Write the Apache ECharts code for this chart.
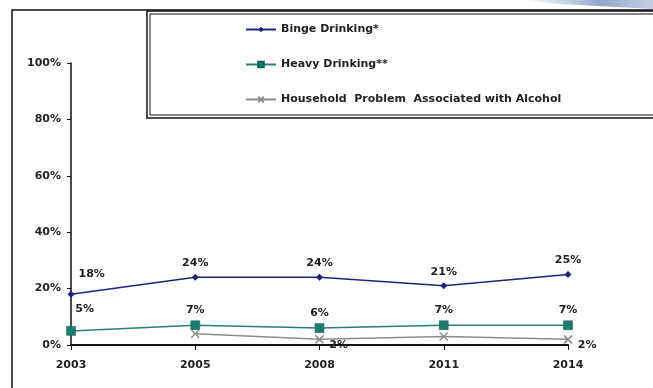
<!DOCTYPE html>
<html><head><meta charset="utf-8">
<script src="https://cdn.jsdelivr.net/npm/echarts@6/dist/echarts.min.js"></script>
<style>html,body{margin:0;padding:0;background:#fff}#c{width:653px;height:388px}</style>
</head><body><div id="c"></div>
<script>
const years = ['2003','2005','2008','2011','2014'];
const binge = [18, 24, 24, 21, 25];
const heavy = [5, 7, 6, 7, 7];
const household = [null, 4, 2, 3, 2];
const householdLabelled = [false, false, true, false, true];
const yTicks = [0, 20, 40, 60, 80, 100];
const seriesNames = ['Binge Drinking*', 'Heavy Drinking**', 'Household  Problem  Associated with Alcohol'];

const FONT = '"DejaVu Sans",sans-serif';
const chart = echarts.init(document.getElementById('c'));
const lbl = (pos) => ({show:true, position:pos, formatter:'{c}%', fontFamily:FONT, fontWeight:'bold', fontSize:11, color:'#222'});
const xPath = 'path://M0,0L10,10M10,0L0,10';

chart.setOption({
  animation:false,
  backgroundColor:'#fff',
  grid:{left:71, right:85, top:63, bottom:43},
  legend:{
    orient:'vertical', left:240, top:19, itemGap:24, itemWidth:30, itemHeight:7,
    textStyle:{fontFamily:FONT, fontWeight:'bold', fontSize:11, color:'#222'},
    data:seriesNames
  },
  xAxis:{
    type:'category', data:years, boundaryGap:false,
    axisLine:{lineStyle:{color:'#111', width:2}},
    axisTick:{show:true, alignWithLabel:true, length:5, lineStyle:{color:'#111'}},
    axisLabel:{fontFamily:FONT, fontWeight:'bold', fontSize:11, color:'#222', margin:15}
  },
  yAxis:{
    type:'value', min:0, max:100, interval:20,
    axisLine:{show:true, lineStyle:{color:'#111', width:1.5}},
    axisTick:{show:true, length:4, lineStyle:{color:'#111'}},
    splitLine:{show:false},
    axisLabel:{fontFamily:FONT, fontWeight:'bold', fontSize:11, color:'#222', margin:10,
      formatter:(v)=> yTicks.includes(v) ? v + '%' : ''}
  },
  graphic:[
    {type:'polygon', shape:{points:[[520,0],[653,0],[653,9],[560,4]]},
      style:{fill:{type:'linear',x:0,y:0,x2:1,y2:0,colorStops:[{offset:0,color:'rgba(170,190,220,0)'},{offset:0.6,color:'#8fa6c8'},{offset:1,color:'#c5d2e6'}]}}, z:-2},
    {type:'rect', shape:{x:12, y:10, width:660, height:390}, style:{fill:'none', stroke:'#111', lineWidth:1.5}, z:-1},
    {type:'rect', shape:{x:147, y:11, width:520, height:107}, style:{fill:'#fff', stroke:'#111', lineWidth:1.5}, z:-1},
    {type:'rect', shape:{x:150, y:14, width:514, height:101}, style:{fill:'#fff', stroke:'#111', lineWidth:1}, z:-1}
  ],
  series:[
    {name:seriesNames[0], type:'line', data:binge.map((v,i)=>({value:v, label: i===0 ? {position:[11,-22]} : {}})),
      color:'#22227a', symbol:'diamond', symbolSize:7, lineStyle:{width:1.5},
      label:lbl('top')},
    {name:seriesNames[1], type:'line', data:heavy.map((v,i)=>({value:v, label: i===0 ? {position:[9,-23]} : {}})),
      color:'#1a7d70', symbol:'rect', symbolSize:9, lineStyle:{width:1.5, color:'#2a7f74'},
      itemStyle:{borderColor:'#0f5f55', borderWidth:0.5},
      label:lbl('top')},
    {name:seriesNames[2], type:'line',
      data:household.map((v,i)=>({value:v, label:{show:householdLabelled[i]}})),
      color:'#8c8c8c', symbol:xPath, symbolSize:8, lineStyle:{width:1.5},
      itemStyle:{color:'#8c8c8c', borderColor:'#8c8c8c', borderWidth:1.5},
      label:Object.assign(lbl('right'), {offset:[0,6]})}
  ]
});
</script></body></html>
